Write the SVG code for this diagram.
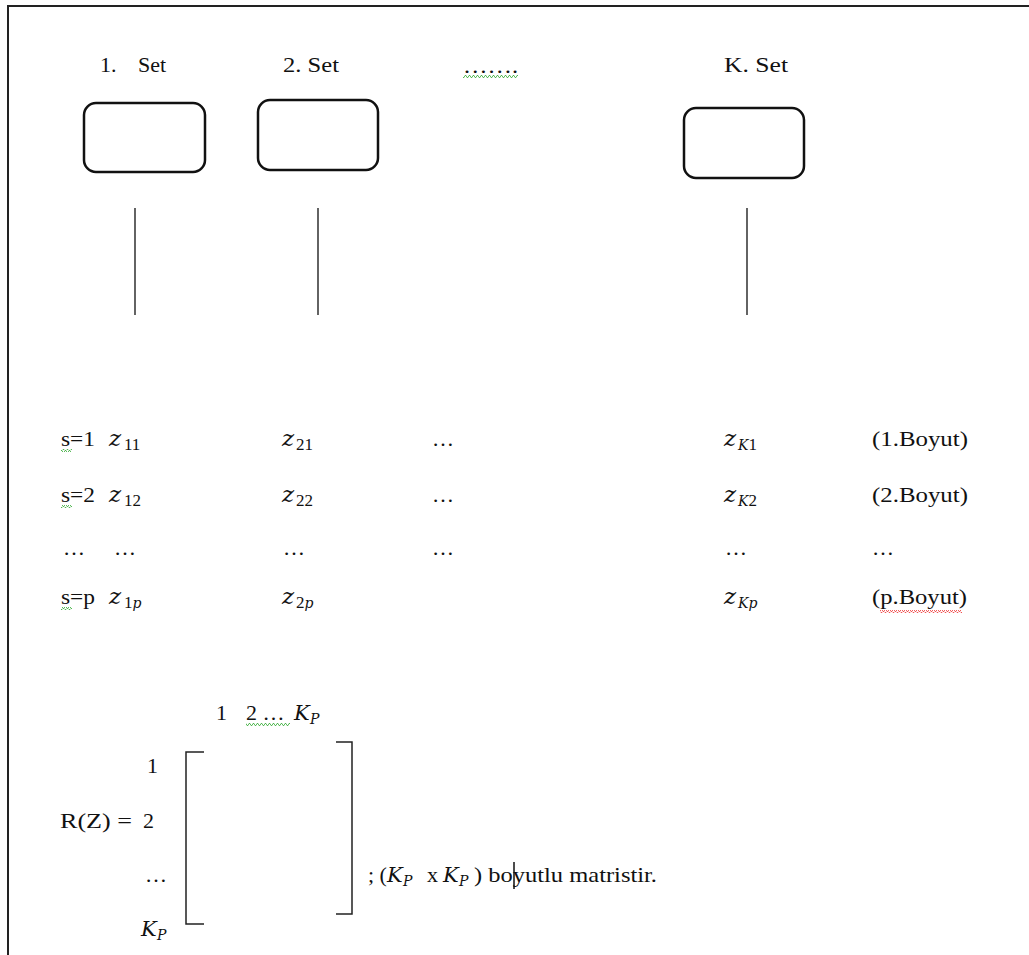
<svg xmlns="http://www.w3.org/2000/svg" width="1029" height="955" viewBox="0 0 1029 955">
<style>
text{font-family:"Liberation Serif","Times New Roman",serif;font-size:22px;fill:#111}
.h{font-size:22px}
.i{font-family:"DejaVu Serif","Liberation Serif",serif;font-style:italic;font-size:23px}
.iK{font-family:"DejaVu Serif","Liberation Serif",serif;font-style:italic;font-size:21px}
.sb{font-family:"Liberation Serif",serif;font-size:17px;font-style:normal}
.si{font-family:"DejaVu Serif","Liberation Serif",serif;font-size:14px;font-style:italic}
.box{fill:#fff;stroke:#111;stroke-width:2.5}
.ln{stroke:#222;stroke-width:1.4;fill:none}
.br{stroke:#222;stroke-width:1.5;fill:none}
</style>
<defs>
<pattern id="wg" width="4" height="3" patternUnits="userSpaceOnUse"><path d="M0 2.5 L1 0.5 L2 0.5 L3 2.5 L4 2.5" stroke="#3a3" stroke-width="0.8" fill="none"/></pattern>
<pattern id="wr" width="4" height="3" patternUnits="userSpaceOnUse"><path d="M0 2.5 L1 0.5 L2 0.5 L3 2.5 L4 2.5" stroke="#e33" stroke-width="0.8" fill="none"/></pattern>
</defs>
<rect width="1029" height="955" fill="#fff"/>
<path d="M8 955 V6 H1029" stroke="#222" stroke-width="2" fill="none"/>

<g id="set1">
<text class="h" x="100" y="72" xml:space="preserve">1.   <tspan x="138">Set</tspan></text>
<rect class="box" x="84" y="103" width="121" height="69" rx="12"/>
</g>
<g id="set2">
<text class="h" x="283" y="72" textLength="56" lengthAdjust="spacingAndGlyphs">2. Set</text>
<rect class="box" x="258" y="100" width="120" height="70" rx="12"/>
</g>
<g id="dots-top">
<text class="h" x="463" y="73" textLength="55" lengthAdjust="spacingAndGlyphs">…….</text>
<rect x="463" y="75" width="55" height="3" fill="url(#wg)"/>
</g>
<g id="setK">
<text class="h" x="724" y="72" textLength="64" lengthAdjust="spacingAndGlyphs">K. Set</text>
<rect class="box" x="684" y="108" width="120" height="70" rx="12"/>
</g>

<g id="connectors">
<line class="ln" x1="135" y1="208" x2="135" y2="315"/>
<line class="ln" x1="318" y1="208" x2="318" y2="315"/>
<line class="ln" x1="747" y1="208" x2="747" y2="315"/>
</g>

<g id="rows">
<text x="61" y="446" textLength="34" lengthAdjust="spacingAndGlyphs">s=1</text>
<text x="109" y="446" class="i">z<tspan class="sb" x="124" y="450">11</tspan></text>
<text x="282" y="446" class="i">z<tspan class="sb" x="296" y="450">21</tspan></text>
<text x="432" y="446">…</text>
<text x="724" y="446" class="i">z<tspan class="si" x="738" y="450">K</tspan><tspan class="sb" y="450">1</tspan></text>
<text x="872" y="446" textLength="96" lengthAdjust="spacingAndGlyphs">(1.Boyut)</text>

<text x="61" y="502" textLength="34" lengthAdjust="spacingAndGlyphs">s=2</text>
<text x="109" y="502" class="i">z<tspan class="sb" x="124" y="506">12</tspan></text>
<text x="282" y="502" class="i">z<tspan class="sb" x="296" y="506">22</tspan></text>
<text x="432" y="502">…</text>
<text x="724" y="502" class="i">z<tspan class="si" x="738" y="506">K</tspan><tspan class="sb" y="506">2</tspan></text>
<text x="872" y="502" textLength="96" lengthAdjust="spacingAndGlyphs">(2.Boyut)</text>

<text x="63" y="555">…</text>
<text x="114" y="555">…</text>
<text x="283" y="555">…</text>
<text x="432" y="555">…</text>
<text x="725" y="555">…</text>
<text x="872" y="555">…</text>

<text x="61" y="604" textLength="34" lengthAdjust="spacingAndGlyphs">s=p</text>
<text x="109" y="604" class="i">z<tspan class="sb" x="124" y="608">1</tspan><tspan class="si" y="608">p</tspan></text>
<text x="282" y="604" class="i">z<tspan class="sb" x="296" y="608">2</tspan><tspan class="si" y="608">p</tspan></text>
<text x="724" y="604" class="i">z<tspan class="si" x="738" y="608">K</tspan><tspan class="si" y="608">p</tspan></text>
<text x="872" y="604" textLength="95" lengthAdjust="spacingAndGlyphs">(p.Boyut)</text>

<rect x="61" y="449" width="11" height="3" fill="url(#wg)"/>
<rect x="61" y="505" width="11" height="3" fill="url(#wg)"/>
<rect x="61" y="607" width="11" height="3" fill="url(#wg)"/>
<rect x="880" y="610" width="82" height="3" fill="url(#wr)"/>
</g>

<g id="matrix">
<text x="216" y="720">1</text>
<text x="246" y="720">2 …</text>
<text x="294" y="720" class="iK">K<tspan class="si" x="310" y="724">P</tspan></text>
<rect x="246" y="723" width="44" height="3" fill="url(#wg)"/>

<text x="147" y="773">1</text>
<text x="60" y="828" textLength="72" lengthAdjust="spacingAndGlyphs">R(Z) =</text>
<text x="143" y="828">2</text>
<text x="145" y="882">…</text>
<text x="141" y="936" class="iK">K<tspan class="si" x="157" y="940">P</tspan></text>

<path class="br" d="M204 752 H186 V924 H204"/>
<path class="br" d="M336 742 H352 V914 H336"/>

<text x="368" y="882">; (<tspan class="iK" x="387">K</tspan><tspan class="si" x="403" y="886">P</tspan><tspan x="427" y="882">x</tspan><tspan class="iK" x="443">K</tspan><tspan class="si" x="459" y="886">P</tspan><tspan x="474" y="882" textLength="183" lengthAdjust="spacingAndGlyphs">) boyutlu matristir.</tspan></text>
<line x1="514" y1="862" x2="514" y2="889" stroke="#111" stroke-width="1.5"/>
</g>
</svg>
